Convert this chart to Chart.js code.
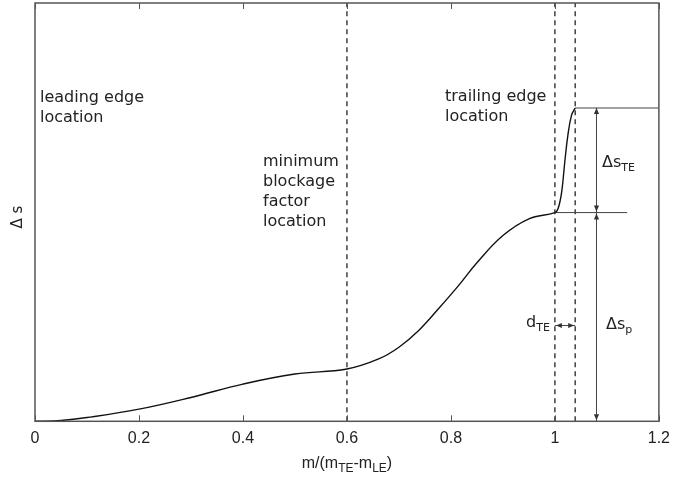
<!DOCTYPE html>
<html>
<head>
<meta charset="utf-8">
<script src="https://cdn.jsdelivr.net/npm/chart.js@4"></script>
<style>
  html, body { margin: 0; padding: 0; background: #fff; }
  #wrap { width: 678px; height: 480px; }
</style>
</head>
<body>
<div id="wrap"><canvas id="chart" width="678" height="480"></canvas></div>
<script>
// entropy rise along the meridional coordinate
const curveX = [0, 0.05, 0.1, 0.2, 0.3, 0.4, 0.5, 0.6, 0.661, 0.7, 0.738, 0.776, 0.815, 0.85, 0.9, 0.95, 1.0, 1.006, 1.013, 1.019, 1.025, 1.032, 1.039];
const curveY = [0, 0.002, 0.009, 0.029, 0.057, 0.089, 0.113, 0.125, 0.149, 0.177, 0.217, 0.269, 0.325, 0.379, 0.444, 0.484, 0.499, 0.508, 0.548, 0.620, 0.684, 0.732, 0.749];

const markerX = [0.6, 1.0, 1.039];   // min blockage, trailing edge, TE + d_TE
const teLevel = 0.499;               // Δs at the trailing edge
const mixedLevel = 0.749;            // Δs after trailing edge mixing
const teLineEnd = 1.139;
const arrowX = 1.08;
const dteY = 0.229;
const xMax = 1.2;

const mk = (xs, ys) => xs.map((x, i) => ({ x, y: ys[i] }));

const thin = { borderColor: '#444', borderWidth: 1, pointRadius: 0, fill: false };
const dash = { borderColor: '#222', borderWidth: 1.3, borderDash: [5, 4], pointRadius: 0, fill: false };

const datasets = [
  { data: mk(curveX, curveY), borderColor: '#111', borderWidth: 1.4, pointRadius: 0, tension: 0.4, fill: false },
  { ...thin, data: mk([markerX[2], xMax], [mixedLevel, mixedLevel]) },
  { ...thin, data: mk([markerX[1], teLineEnd], [teLevel, teLevel]) },
  { ...thin, data: mk([arrowX, arrowX], [0, mixedLevel]) },
  { ...thin, data: mk([markerX[1], markerX[2]], [dteY, dteY]) }
];
markerX.forEach(x => datasets.push({ ...dash, data: mk([x, x], [0, 1]) }));

function arrowHead(ctx, x, y, dir) {
  // dir: 'up' | 'down' | 'left' | 'right'
  const L = 6, W = 2.6;
  ctx.beginPath();
  if (dir === 'up') { ctx.moveTo(x, y); ctx.lineTo(x - W, y + L); ctx.lineTo(x + W, y + L); }
  if (dir === 'down') { ctx.moveTo(x, y); ctx.lineTo(x - W, y - L); ctx.lineTo(x + W, y - L); }
  if (dir === 'left') { ctx.moveTo(x, y); ctx.lineTo(x + L, y - W); ctx.lineTo(x + L, y + W); }
  if (dir === 'right') { ctx.moveTo(x, y); ctx.lineTo(x - L, y - W); ctx.lineTo(x - L, y + W); }
  ctx.closePath();
  ctx.fill();
}

// text with subscripts; parts = [text, isSub, font]
function subText(ctx, parts, x, y, align) {
  let total = 0;
  parts.forEach(p => { ctx.font = p[2]; total += ctx.measureText(p[0]).width; });
  let cx = align === 'center' ? x - total / 2 : x;
  ctx.textAlign = 'left';
  parts.forEach(p => {
    ctx.font = p[2];
    ctx.fillText(p[0], cx, y + (p[1] ? 5 : 0));
    cx += ctx.measureText(p[0]).width;
  });
}

const decor = {
  id: 'decor',
  afterDraw(chart) {
    const { ctx, chartArea: a, scales } = chart;
    const xs = scales.x, ys = scales.y;
    ctx.save();
    // frame
    ctx.strokeStyle = '#555';
    ctx.lineWidth = 1.5;
    ctx.strokeRect(a.left, a.top, a.right - a.left, a.bottom - a.top);
    // inward ticks top & bottom
    ctx.lineWidth = 1;
    xs.ticks.forEach(t => {
      const px = Math.round(xs.getPixelForValue(t.value)) + 0.5;
      ctx.beginPath();
      ctx.moveTo(px, a.bottom); ctx.lineTo(px, a.bottom - 6);
      ctx.moveTo(px, a.top); ctx.lineTo(px, a.top + 6);
      ctx.stroke();
    });
    // arrow heads
    ctx.fillStyle = '#333';
    const ax = xs.getPixelForValue(arrowX);
    arrowHead(ctx, ax, ys.getPixelForValue(mixedLevel), 'up');
    arrowHead(ctx, ax, ys.getPixelForValue(teLevel) - 1, 'down');
    arrowHead(ctx, ax, ys.getPixelForValue(teLevel) + 1, 'up');
    arrowHead(ctx, ax, ys.getPixelForValue(0) - 1, 'down');
    const dy = ys.getPixelForValue(dteY);
    arrowHead(ctx, xs.getPixelForValue(markerX[1]) + 1, dy, 'left');
    arrowHead(ctx, xs.getPixelForValue(markerX[2]) - 1, dy, 'right');

    // annotations
    ctx.fillStyle = '#222';
    ctx.textBaseline = 'middle';
    ctx.textAlign = 'left';
    const f = '16px "DejaVu Sans"';
    const fs = '11px "DejaVu Sans"';
    ctx.font = f;
    ['leading edge', 'location'].forEach((s, i) => ctx.fillText(s, 40, 98 + i * 20));
    ['minimum', 'blockage', 'factor', 'location'].forEach((s, i) => ctx.fillText(s, 263, 162 + i * 20));
    ['trailing edge', 'location'].forEach((s, i) => ctx.fillText(s, 445, 97 + i * 20));
    subText(ctx, [['Δs', false, f], ['TE', true, fs]], 602, 163, 'left');
    subText(ctx, [['Δs', false, f], ['p', true, fs]], 606, 325, 'left');
    subText(ctx, [['d', false, f], ['TE', true, fs]], 526, 323, 'left');

    // y title
    ctx.save();
    ctx.translate(18, 217);
    ctx.rotate(-Math.PI / 2);
    ctx.textAlign = 'center';
    ctx.font = '15px "DejaVu Sans"';
    ctx.fillText('Δ s', 0, 0);
    ctx.restore();

    // x title
    const tf = '16px "Liberation Sans"';
    const tfs = '12px "Liberation Sans"';
    subText(ctx, [['m/(m', false, tf], ['TE', true, tfs], ['-m', false, tf], ['LE', true, tfs], [')', false, tf]],
      (a.left + a.right) / 2, 464, 'center');
    ctx.restore();
  }
};

new Chart(document.getElementById('chart'), {
  type: 'line',
  data: { datasets },
  options: {
    responsive: false,
    animation: false,
    layout: { padding: { left: 35, right: 17, top: 3, bottom: 23.5 } },
    plugins: { legend: { display: false }, tooltip: { enabled: false } },
    scales: {
      x: {
        type: 'linear',
        min: 0,
        max: xMax,
        ticks: {
          stepSize: 0.2,
          color: '#222',
          padding: 8,
          font: { family: 'Liberation Sans', size: 16 },
          callback: v => String(Number(v.toFixed(2)))
        },
        grid: { display: false, drawTicks: false },
        border: { display: false }
      },
      y: {
        display: false,
        min: 0,
        max: 1
      }
    }
  },
  plugins: [decor]
});
</script>
</body>
</html>
